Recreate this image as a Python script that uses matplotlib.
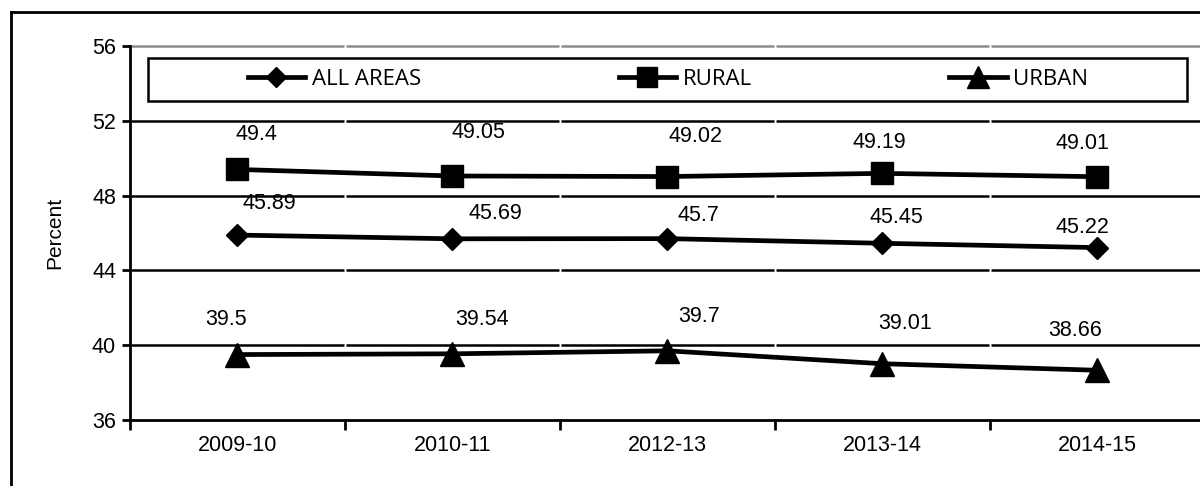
import matplotlib
matplotlib.use("Agg")
import matplotlib.pyplot as plt
from matplotlib.lines import Line2D
from matplotlib.patches import Rectangle

# datos
anios = ["2009-10", "2010-11", "2012-13", "2013-14", "2014-15"]
todas = [45.89, 45.69, 45.70, 45.45, 45.22]
rural = [49.40, 49.05, 49.02, 49.19, 49.01]
urbana = [39.50, 39.54, 39.70, 39.01, 38.66]
et_todas = ["45.89", "45.69", "45.7", "45.45", "45.22"]
et_rural = ["49.4", "49.05", "49.02", "49.19", "49.01"]
et_urbana = ["39.5", "39.54", "39.7", "39.01", "38.66"]
y_ticks = [36, 40, 44, 48, 52, 56]

plt.rcParams["font.family"] = ["Liberation Sans", "DejaVu Sans"]

fig = plt.figure(figsize=(12, 4.86), dpi=100)
ax = fig.add_axes([0.1083, 0.1358, 0.8958, 0.7695])

x = list(range(1, len(anios) + 1))

# rejilla con pequeños cortes entre categorias (estilo Excel)
for yv in y_ticks[1:]:
    col = "#8c8c8c" if yv == 56 else "black"
    for xi in x:
        ax.plot([xi - 0.5 + 0.006, xi + 0.5 - 0.006], [yv, yv], color=col,
                lw=1.8, zorder=1, solid_capstyle="butt", clip_on=False)

ax.plot(x, todas, color="black", lw=3.4, marker="D", ms=11, zorder=3, label="ALL AREAS")
ax.plot(x, rural, color="black", lw=3.4, marker="s", ms=16, zorder=3, label="RURAL")
ax.plot(x, urbana, color="black", lw=3.4, marker="^", ms=17, zorder=3, label="URBAN")

# desplazamiento de las etiquetas (pixeles), colocadas a mano en el original
off_r = [(19, 35), (26, 43), (28, 40), (-3, 31), (-15, 33)]
off_t = [(32, 32), (43, 25), (31, 23), (14, 26), (-15, 20)]
off_u = [(-11, 35), (30, 34), (32, 34), (23, 40), (-22, 40)]
for i, xi in enumerate(x):
    for vals, ets, offs in [(rural, et_rural, off_r), (todas, et_todas, off_t), (urbana, et_urbana, off_u)]:
        ax.annotate(ets[i], (xi, vals[i]), xytext=offs[i], textcoords="offset pixels",
                    ha="center", va="center", fontsize=15.5)

ax.set_xlim(0.5, len(anios) + 0.5)
ax.set_ylim(36, 56)
ax.set_yticks(y_ticks)
ax.set_yticklabels([str(v) for v in y_ticks], fontsize=15.5)
ax.set_xticks([i + 0.5 for i in range(len(anios) + 1)])
ax.set_xticklabels([])
ax.set_xticks(x, minor=True)
ax.set_xticklabels(anios, minor=True, fontsize=15.5)
ax.tick_params(axis="x", which="major", length=7, width=2, direction="out")
ax.tick_params(axis="x", which="minor", length=0, pad=11)
ax.tick_params(axis="y", length=6, width=2, direction="out", pad=4)
ax.set_ylabel("Percent", fontsize=15, labelpad=20)

for s in ["top", "right"]:
    ax.spines[s].set_visible(False)
ax.spines["left"].set_linewidth(2)
ax.spines["bottom"].set_linewidth(2)

# caja de la leyenda
ax.add_patch(Rectangle((0.0167, 0.853), 0.967, 0.115, transform=ax.transAxes,
                       fill=True, facecolor="white", edgecolor="black", lw=1.8, zorder=4))
leg = ax.legend(loc="center", bbox_to_anchor=(0.5005, 0.91), ncol=3, frameon=False,
                prop={"family": ["Open Sans", "DejaVu Sans"], "size": 16},
                columnspacing=8.9, handlelength=2.6, handletextpad=0.28, markerscale=0.9)
leg.set_zorder(5)

# marco exterior (recortado)
fig.add_artist(Line2D([0.009, 0.009], [0.0, 0.975], color="black", lw=2, transform=fig.transFigure))
fig.add_artist(Line2D([0.009, 1.0], [0.975, 0.975], color="black", lw=2, transform=fig.transFigure))

fig.savefig("out.png", dpi=100)
